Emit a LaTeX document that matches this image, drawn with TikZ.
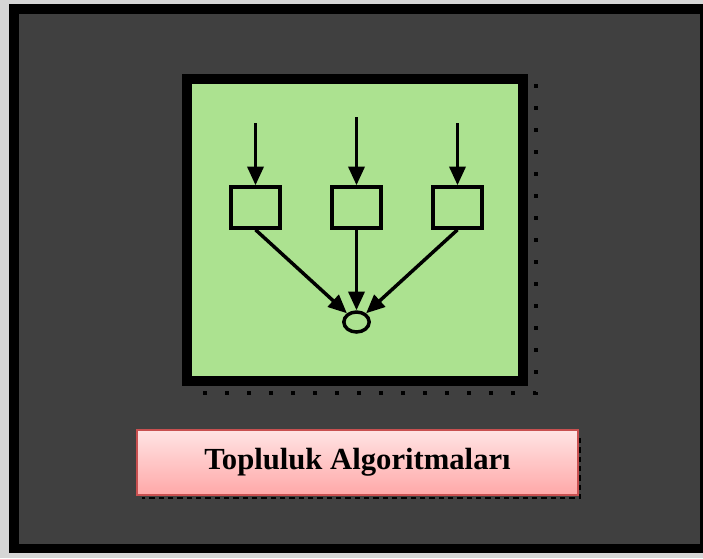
\documentclass[tikz,border=0pt]{standalone}
\usepackage{fontspec}
\setmainfont{Liberation Serif}
\usepackage{xcolor}
\usepackage{tikz}
\usetikzlibrary{arrows.meta,shapes.geometric}

\definecolor{edgegray}{RGB}{214,214,214}
\definecolor{slate}{RGB}{64,64,64}
\definecolor{leafgreen}{RGB}{172,226,144}
\definecolor{rosetop}{RGB}{255,228,228}
\definecolor{rosebottom}{RGB}{255,168,168}
\definecolor{roseedge}{RGB}{200,80,80}

\begin{document}
\begin{tikzpicture}[x=0.75pt,y=-0.75pt,
  >={Triangle[length=14pt,width=12pt]},
  unit/.style={draw,line width=2.6pt,minimum width=36.75pt,minimum height=30.75pt,inner sep=0pt},
  sink/.style={ellipse,draw,line width=2.6pt,minimum width=19pt,minimum height=15pt,inner sep=0pt},
  flow/.style={->,line width=2.6pt},
  dots/.style={black,line width=3pt,dash pattern=on 3pt off 13.5pt}]
\useasboundingbox (0,0) rectangle (703,558);
% frame
\fill[edgegray] (0,0) rectangle (703,558);
\fill[black] (9,4) rectangle (703,553);
\fill[slate] (19,14) rectangle (700,544);
% green panel
\draw[dots] (536,84) -- (536,393) -- (190,393);
\draw[line width=7.5pt,fill=leafgreen] (187,78.5) rectangle (523,380.5);
\node[unit] (u1) at (255.5,207.5) {};
\node[unit] (u2) at (356.5,207.5) {};
\node[unit] (u3) at (457.5,207.5) {};
\node[sink] (out) at (356.5,322) {};
\coordinate (in1) at (255.5,123);
\coordinate (in2) at (356.5,117);
\coordinate (in3) at (457.5,123);
\draw[flow] (in1) -- (u1);
\draw[flow] (in2) -- (u2);
\draw[flow] (in3) -- (u3);
\draw[flow] (u1.south) -- (out);
\draw[flow] (u2) -- (out);
\draw[flow] (u3.south) -- (out);
% caption
\draw[black,line width=2pt,dash pattern=on 4pt off 3pt] (580,438) -- (580,498) -- (142,498);
\node[draw=roseedge,line width=2pt,top color=rosetop,bottom color=rosebottom,
  minimum width=330.75pt,minimum height=48.75pt]
  (title) at (357.5,462.5) {\fontsize{23}{26}\selectfont\bfseries Topluluk Algoritmaları};
\end{tikzpicture}
\end{document}
